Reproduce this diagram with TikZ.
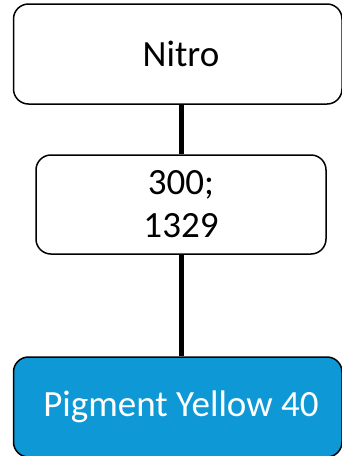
\documentclass[tikz,border=0pt]{standalone}
\usepackage{fontspec}
\setmainfont{Carlito}
\definecolor{leafblue}{RGB}{14,153,214}
\begin{document}
\begin{tikzpicture}[x=1pt,y=-1pt,
  box/.style={draw=black,line width=1.5pt,rounded corners=15pt,fill=white,
    inner sep=0pt,align=center,font=\fontsize{37}{43}\selectfont},
  wide/.style={minimum width=328.5pt,minimum height=100pt},
  narrow/.style={minimum width=290pt,minimum height=99pt},
  lbl/.style={inner sep=0pt,align=center,font=\fontsize{37}{43}\selectfont},
  link/.style={line width=5pt,black}]
\useasboundingbox (0,0) rectangle (341,456);
% boxes
\node[box,wide] (nitro) at (177.75,54) {};
\node[box,narrow] (num) at (181,204.5) {300;\\1329};
\node[box,wide,fill=leafblue] (pig) at (177.75,407) {};
% box texts
\node[lbl] (nitrotext) at (nitro.center -| num.center) {Nitro};
\node[lbl,text=white] (pigtext) at (pig.center -| num.center) {Pigment Yellow 40};
% vertical connectors
\draw[link] (nitro.south -| num.north) -- (num.north);
\draw[link] (num.south) -- (pig.north -| num.south);
\end{tikzpicture}
\end{document}
